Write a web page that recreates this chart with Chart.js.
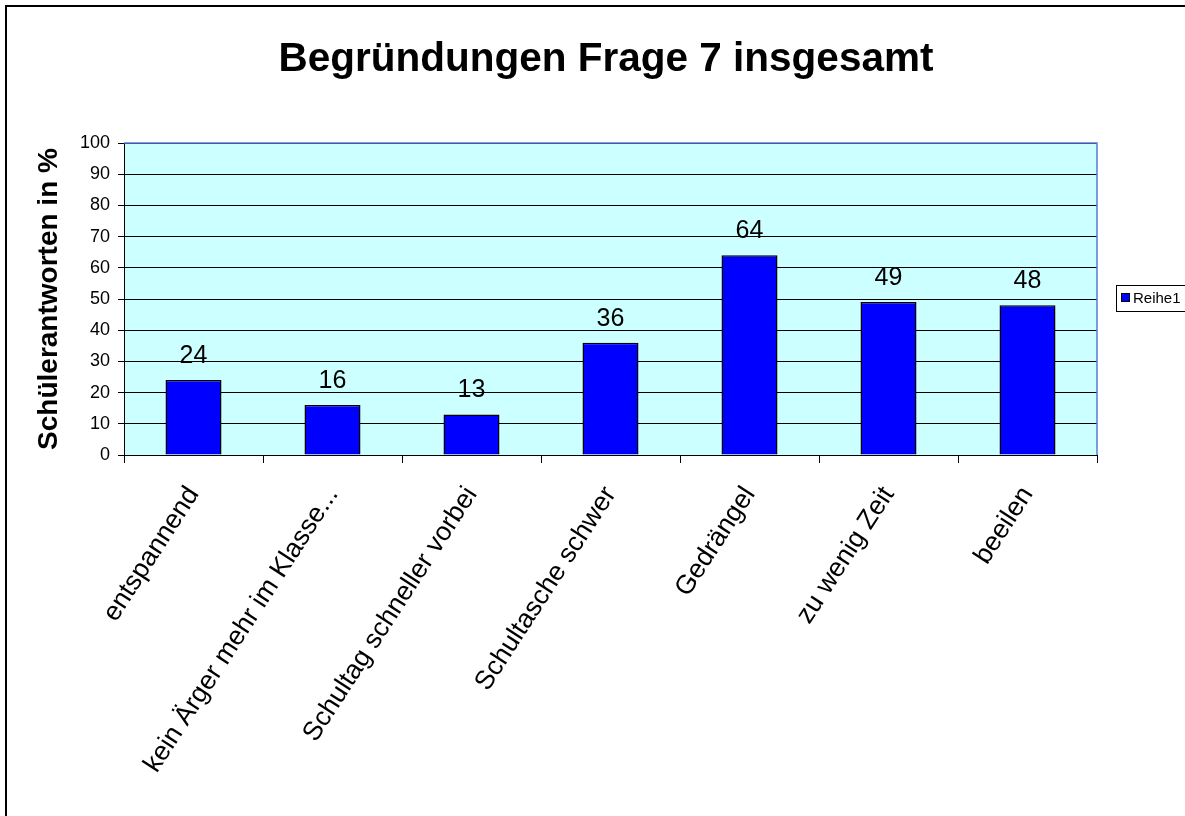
<!DOCTYPE html>
<html>
<head>
<meta charset="utf-8">
<script src="https://cdn.jsdelivr.net/npm/chart.js@4"></script>
<style>
  html, body { margin: 0; padding: 0; background: #ffffff; }
  canvas { display: block; }
</style>
</head>
<body>
<canvas id="c" width="1185" height="816"></canvas>
<script>
const categories = [
  "entspannend",
  "kein Ärger mehr im Klasse...",
  "Schultag schneller vorbei",
  "Schultasche schwer",
  "Gedrängel",
  "zu wenig Zeit",
  "beeilen"
];
const values = [24, 16, 13, 36, 64, 49, 48];
const seriesName = "Reihe1";
const chartTitle = "Begründungen Frage 7 insgesamt";
const yAxisTitle = "Schülerantworten in %";
const yMin = 0, yMax = 100, yStep = 10;

const FONT = "'Liberation Sans', Arial, sans-serif";

const framePlugin = {
  id: 'frame',
  beforeDraw(chart) {
    const ctx = chart.ctx;
    const a = chart.chartArea;
    ctx.save();
    ctx.fillStyle = '#ffffff';
    ctx.fillRect(0, 0, chart.width, chart.height);
    // outer chart border
    ctx.strokeStyle = '#000000';
    ctx.lineWidth = 2;
    ctx.strokeRect(6, 6, chart.width + 50, chart.height + 50);
    // plot area background
    ctx.fillStyle = '#ccffff';
    ctx.fillRect(a.left, a.top, a.right - a.left, a.bottom - a.top);
    // chart title
    ctx.fillStyle = '#000000';
    ctx.font = 'bold 40.5px ' + FONT;
    ctx.textAlign = 'center';
    ctx.textBaseline = 'alphabetic';
    ctx.fillText(chartTitle, 606, 71);
    ctx.restore();
  },
  beforeDatasetsDraw(chart) {
    const ctx = chart.ctx;
    const a = chart.chartArea;
    ctx.save();
    ctx.strokeStyle = '#5a7ad8';
    ctx.lineWidth = 1.5;
    ctx.beginPath();
    ctx.moveTo(a.left, a.top);
    ctx.lineTo(a.right, a.top);
    ctx.lineTo(a.right, a.bottom);
    ctx.stroke();
    ctx.restore();
  },
  afterDatasetsDraw(chart) {
    const ctx = chart.ctx;
    const meta = chart.getDatasetMeta(0);
    const ds = chart.data.datasets[0];
    ctx.save();
    ctx.fillStyle = '#000000';
    ctx.font = '25px ' + FONT;
    ctx.textAlign = 'center';
    ctx.textBaseline = 'alphabetic';
    meta.data.forEach((bar, i) => {
      ctx.fillText(String(ds.data[i]), bar.x, bar.y - 17);
    });
    // legend
    const lx = 1116, ly = 285, lw = 100, lh = 26;
    ctx.fillStyle = '#ffffff';
    ctx.fillRect(lx, ly, lw, lh);
    ctx.strokeStyle = '#000000';
    ctx.lineWidth = 1;
    ctx.strokeRect(lx + 0.5, ly + 0.5, lw, lh);
    ctx.fillStyle = ds.backgroundColor;
    ctx.fillRect(lx + 5.5, ly + 8.5, 8, 8);
    ctx.strokeRect(lx + 5.5, ly + 8.5, 8, 8);
    ctx.fillStyle = '#000000';
    ctx.font = '15px ' + FONT;
    ctx.textAlign = 'left';
    ctx.textBaseline = 'middle';
    ctx.fillText(ds.label, lx + 17, ly + lh / 2 + 1);
    ctx.restore();
  }
};

new Chart(document.getElementById('c'), {
  type: 'bar',
  data: {
    labels: categories,
    datasets: [{
      label: seriesName,
      data: values,
      backgroundColor: '#0000ff',
      borderColor: '#000000',
      borderWidth: 1.5,
      categoryPercentage: 0.5,
      barPercentage: 0.806
    }]
  },
  options: {
    responsive: false,
    animation: false,
    layout: { padding: { left: 0, right: 88, top: 143, bottom: 0 } },
    plugins: {
      legend: { display: false },
      tooltip: { enabled: false },
      title: { display: false }
    },
    scales: {
      x: {
        grid: { display: true, drawOnChartArea: false, drawTicks: true, tickLength: 8, color: '#000000', offset: true },
        border: { display: true, color: '#000000', width: 1 },
        ticks: {
          autoSkip: false,
          minRotation: 57,
          maxRotation: 57,
          color: '#000000',
          padding: 18,
          labelOffset: 0,
          font: { family: FONT, size: 26.6 }
        },
        afterFit(scale) { scale.height = 361; }
      },
      y: {
        min: yMin,
        max: yMax,
        grid: { color: '#000000', lineWidth: 1, tickLength: 6, drawTicks: true },
        border: { display: true, color: '#000000', width: 1 },
        ticks: {
          stepSize: yStep,
          color: '#000000',
          padding: 8,
          font: { family: FONT, size: 18 }
        },
        title: {
          display: true,
          text: yAxisTitle,
          color: '#000000',
          font: { family: FONT, size: 28, weight: 'bold' },
          padding: { top: 32, bottom: 0 }
        },
        afterFit(scale) { scale.width = 124; }
      }
    }
  },
  plugins: [framePlugin]
});
</script>
</body>
</html>
